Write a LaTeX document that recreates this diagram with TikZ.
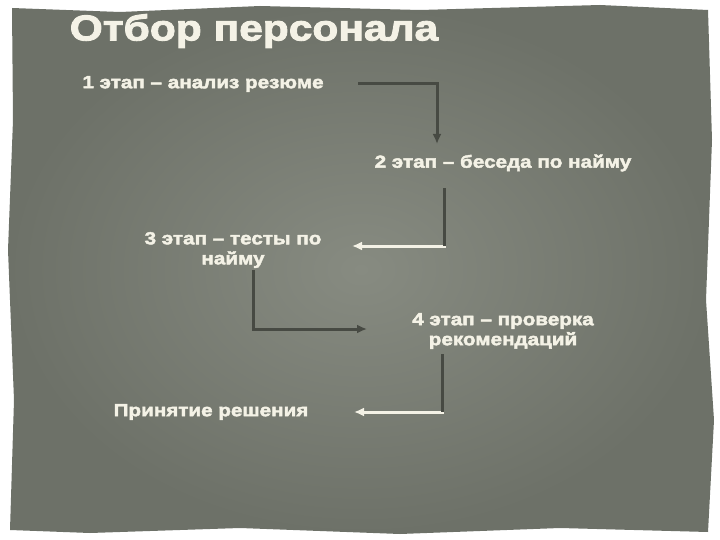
\documentclass[tikz,border=0pt]{standalone}
\usepackage{fontspec}
\setmainfont{Liberation Sans}
\newfontfamily\heavy[FakeStretch=1.18,FakeBold=2.5]{Liberation Sans Bold}
\definecolor{paper}{HTML}{878B81}
\definecolor{paperdark}{HTML}{6D7168}
\definecolor{lineDark}{HTML}{474A43}
\definecolor{txt}{HTML}{F4F2E6}
\usetikzlibrary{arrows.meta}
\tikzset{
  lbl/.style={font=\heavy\fontsize{17.5}{20}\selectfont, text=txt, align=center, inner sep=1pt},
  darkc/.style={draw=lineDark, line width=3pt, -{Latex[length=10pt,width=9pt]}},
  lightc/.style={draw=txt, line width=3pt, -{Latex[length=10pt,width=9pt]}},
}
\begin{document}
\begin{tikzpicture}[x=1pt,y=-1pt]
\useasboundingbox (0,0) rectangle (720,540);
\fill[white] (0,0) rectangle (720,540);
\shade[inner color=paper, outer color=paperdark]
 (12,8) -- (120,12) -- (260,6) -- (420,10) -- (600,5) -- (708,10) -- (712,140) -- (706,300) -- (714,420) -- (708,532)
 -- (560,528) -- (400,534) -- (240,528) -- (90,533) -- (10,530) -- (14,400) -- (8,250) -- (13,120) -- cycle;
\node[text=txt, font=\heavy\fontsize{36}{40}\selectfont] (title) at (254,31) {Отбор персонала};
\node[lbl] (s1) at (203,84) {1 этап – анализ резюме};
\node[lbl] (s2) at (503,163) {2 этап – беседа по найму};
\node[lbl] (s3) at (233,250) {3 этап – тесты по\\найму};
\node[lbl] (s4) at (503,331) {4 этап – проверка\\рекомендаций};
\node[lbl] (s5) at (211,412) {Принятие решения};
\coordinate (a1) at (358,84);
\coordinate (a2) at (437,144);
\coordinate (b1) at (444,188);
\coordinate (b2) at (352,246);
\coordinate (c1) at (253,270);
\coordinate (c2) at (367,329);
\coordinate (d1) at (442,354);
\coordinate (d2) at (354,412);
\draw[darkc] (a1) -| (a2);
\draw[lightc] (b1) |- (b2);
\draw[draw=lineDark, line width=3pt] (b1) -- (444,246);
\draw[darkc] (c1) |- (c2);
\draw[lightc] (d1) |- (d2);
\draw[draw=lineDark, line width=3pt] (d1) -- (442,412);
\end{tikzpicture}
\end{document}
